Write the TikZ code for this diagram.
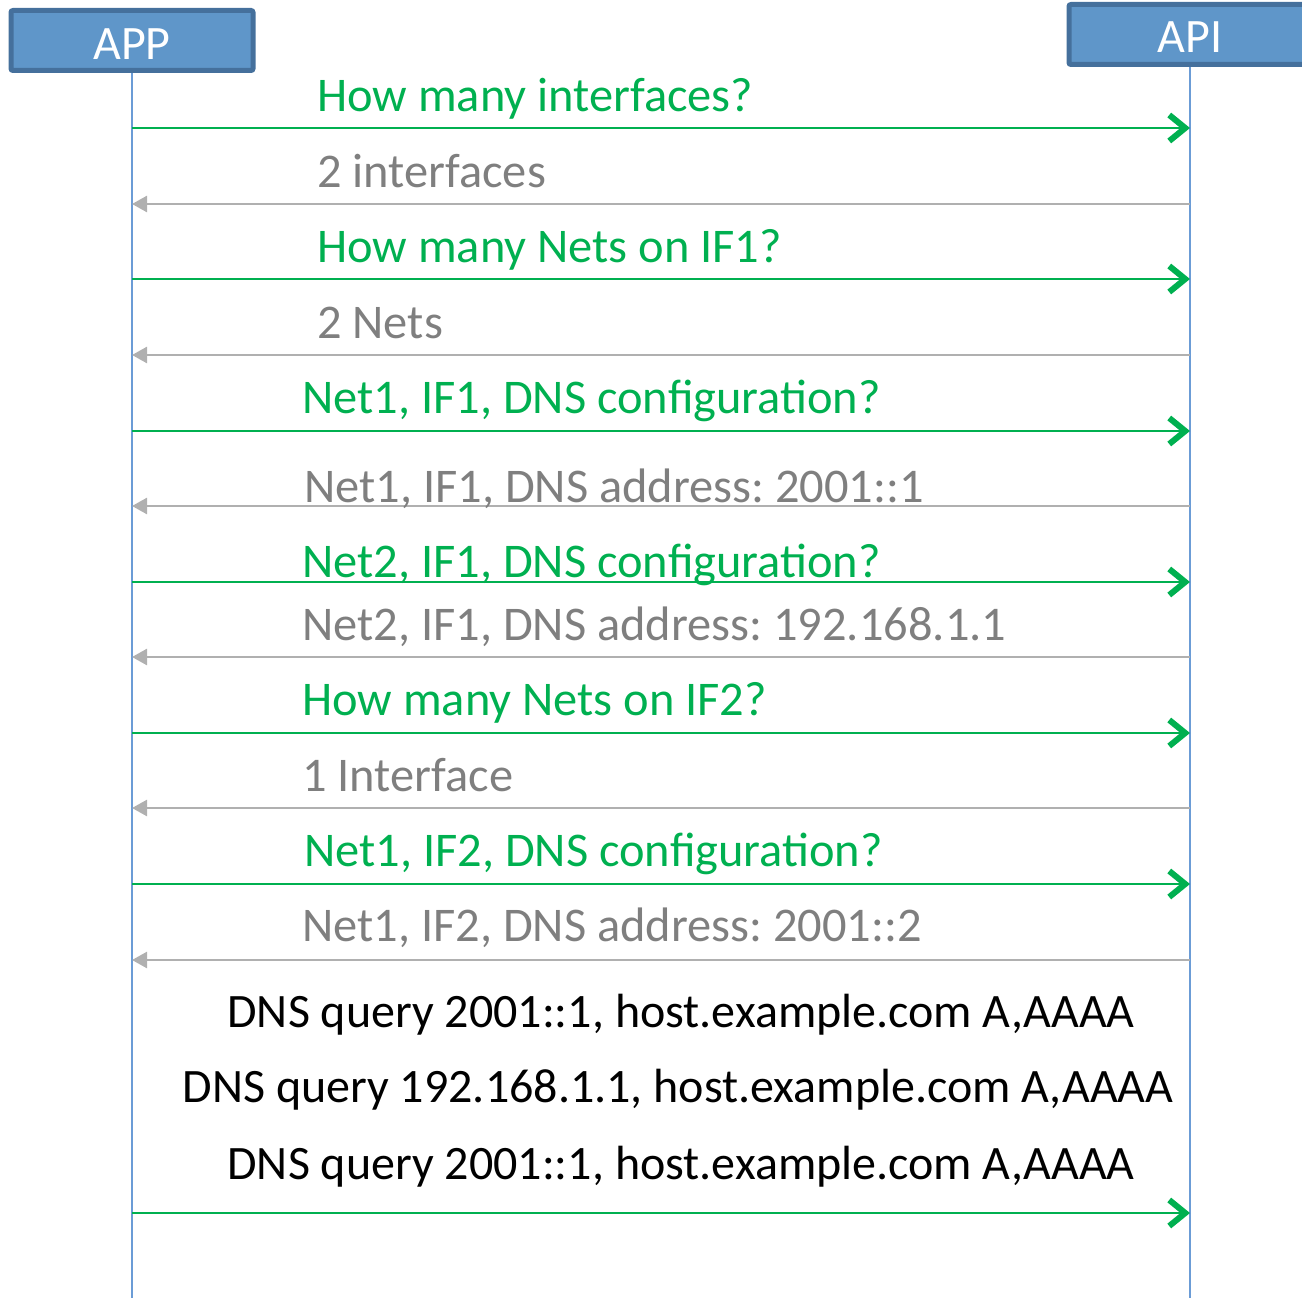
\documentclass[tikz,border=0pt]{standalone}
\usepackage{fontspec}
\setmainfont{Carlito}
\usetikzlibrary{arrows.meta}
\definecolor{boxfill}{HTML}{5F96C9}
\definecolor{boxline}{HTML}{45709C}
\definecolor{lifeblue}{HTML}{6B9CD6}
\definecolor{reqgreen}{HTML}{00B050}
\definecolor{respgray}{HTML}{B0B0B0}
\definecolor{graytext}{HTML}{7F7F7F}
\frenchspacing
\tikzset{
  actor/.style={draw=boxline, fill=boxfill, line width=5pt, rounded corners=2pt,
    minimum width=242pt, minimum height=60pt, inner sep=0pt},
  actortext/.style={text=white, font=\fontsize{48}{48}\selectfont, anchor=base, inner sep=0pt},
  lifeline/.style={draw=lifeblue, line width=2pt},
  reqarrow/.style={draw=reqgreen, line width=2.5pt,
    -{Straight Barb[length=16pt,width=26pt,line width=6pt]}},
  resparrow/.style={draw=respgray, line width=2.5pt,
    -{Triangle[length=15pt,width=16pt]}},
  msg/.style={font=\fontsize{48.4}{48}\selectfont, anchor=base west, inner sep=0pt},
  reqtext/.style={msg, text=reqgreen},
  resptext/.style={msg, text=graytext},
  querytext/.style={font=\fontsize{48}{48}\selectfont, anchor=base, inner sep=0pt, text=black},
}
\begin{document}
\begin{tikzpicture}[x=1pt, y=-1pt]
\clip (0,0) rectangle (1302,1298);
% actors
\node[actor] (app) at (132,40.5) {};
\node[actortext] (apptxt) at (132,60) {APP};
\node[actor] (api) at (1190,34.5) {};
\node[actortext] (apitxt) at (1190,53) {API};
% lifelines
\coordinate (append) at (132,1300);
\coordinate (apiend) at (1190,1300);
\draw[lifeline] (app.south) -- (append);
\draw[lifeline] (api.south) -- (apiend);
% requests
\foreach \n/\y in {1/128,3/279,5/431,7/582,9/733,11/884,13/1213}{
  \coordinate (L\n) at (132,\y);
  \coordinate (R\n) at (1190,\y);
  \draw[reqarrow] (L\n) -- (R\n);
}
% responses
\foreach \n/\y in {2/204,4/355,6/506,8/657,10/808,12/960}{
  \coordinate (L\n) at (132,\y);
  \coordinate (R\n) at (1190,\y);
  \draw[resparrow] (R\n) -- (L\n);
}
% labels
\node[reqtext]  (t1)  at (317,111) {How many interfaces?};
\node[resptext] (t2)  at (317,187) {2 interfaces};
\node[reqtext]  (t3)  at (317,262) {How many Nets on IF1?};
\node[resptext] (t4)  at (317,338) {2 Nets};
\node[reqtext]  (t5)  at (302,413) {Net1, IF1, DNS configuration?};
\node[resptext] (t6)  at (304,502) {Net1, IF1, DNS address: 2001::1};
\node[reqtext]  (t7)  at (302,577) {Net2, IF1, DNS configuration?};
\node[resptext] (t8)  at (302,640) {Net2, IF1, DNS address: 192.168.1.1};
\node[reqtext]  (t9)  at (302,715) {How many Nets on IF2?};
\node[resptext] (t10) at (302,791) {1 Interface};
\node[reqtext]  (t11) at (304,866) {Net1, IF2, DNS configuration?};
\node[resptext] (t12) at (302,941) {Net1, IF2, DNS address: 2001::2};
\node[querytext] (q1) at (681,1027) {DNS query 2001::1, host.example.com A,AAAA};
\node[querytext] (q2) at (678,1102) {DNS query 192.168.1.1, host.example.com A,AAAA};
\node[querytext] (q3) at (681,1179) {DNS query 2001::1, host.example.com A,AAAA};
\end{tikzpicture}
\end{document}
